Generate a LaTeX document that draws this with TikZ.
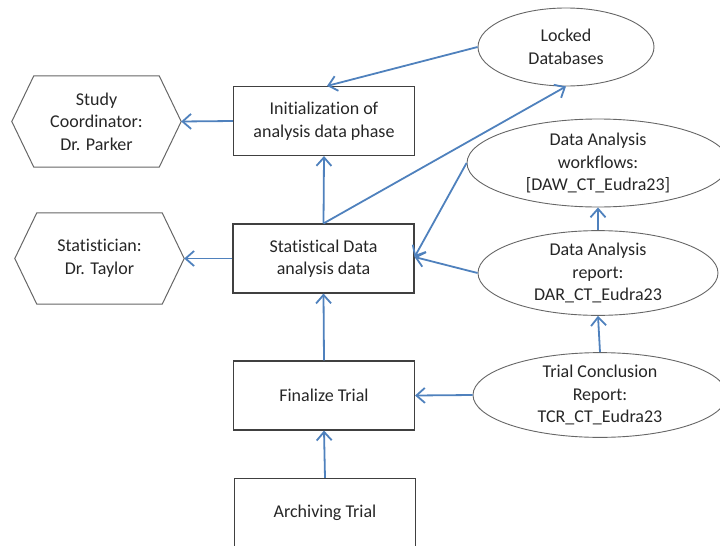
\documentclass[tikz,border=0pt]{standalone}
\usepackage{fontspec}
\setmainfont{Carlito}[Ligatures=NoCommon]
\usetikzlibrary{arrows.meta,shapes.geometric}
\definecolor{flow}{HTML}{4F81BD}
\definecolor{ink}{HTML}{262626}
\tikzset{
  base/.style={font=\fontsize{18}{22.5}\selectfont, text=ink, align=center, inner sep=0pt},
  stepbox/.style={base, draw=black!75, line width=1.1pt, minimum width=181pt, minimum height=69pt},
  docoval/.style={base, ellipse, draw=black!60, line width=0.9pt},
  hexbox/.style={base, minimum width=169pt, minimum height=91pt},
  hexline/.style={draw=black!60, line width=1pt},
  flowarrow/.style={draw=flow, line width=1.8pt, -{Straight Barb[length=8.5pt,width=15pt,line width=1.8pt]}},
}
\begin{document}
\begin{tikzpicture}[x=1pt, y=-1pt]
\useasboundingbox (0,0) rectangle (720,546);
\clip (0,0) rectangle (720,546);

% process steps
\node[stepbox] (init)  at (324,121)   {Initialization of\\analysis data phase};
\node[stepbox] (stat)  at (323.5,258.5) {Statistical Data\\analysis data};
\node[stepbox] (final) at (324,395.5) {Finalize Trial};
\node[stepbox] (arch)  at (325,513)   {Archiving Trial};

% roles
\node[hexbox] (sc) at (96.5,121.5) {Study\\Coordinator:\\Dr. Parker};
\draw[hexline] (sc.west) -- ([xshift=22pt]sc.north west) -- ([xshift=-22pt]sc.north east)
  -- (sc.east) -- ([xshift=-22pt]sc.south east) -- ([xshift=22pt]sc.south west) -- cycle;
\node[hexbox] (st) at (99.5,258.5) {Statistician:\\Dr. Taylor};
\draw[hexline] (st.west) -- ([xshift=22pt]st.north west) -- ([xshift=-22pt]st.north east)
  -- (st.east) -- ([xshift=-22pt]st.south east) -- ([xshift=22pt]st.south west) -- cycle;

% documents
\node[docoval, minimum width=176pt, minimum height=78pt] (lock) at (566,47) {Locked\\Databases};
\node[docoval, minimum width=262pt, minimum height=88pt] (daw) at (598,163) {Data Analysis\\workflows:\\{[DAW\_CT\_Eudra23]}};
\node[docoval, minimum width=240pt, minimum height=80pt] (dar) at (598,273) {Data Analysis\\report:\\DAR\_CT\_Eudra23};
\node[docoval, minimum width=254pt, minimum height=78pt] (tcr) at (600,395) {Trial Conclusion\\Report:\\TCR\_CT\_Eudra23};

% connectors
\draw[flowarrow] (init.west) -- (sc.east);
\draw[flowarrow] (stat.west) -- (st.east);
\draw[flowarrow] (lock.west) -- ([xshift=3pt]init.north);
\draw[flowarrow] (stat.north) -- (init.south);
\draw[flowarrow] (stat.north) -- (lock.south);
\draw[flowarrow] (daw.west) -- ([yshift=1.5pt]stat.east);
\draw[flowarrow] (dar.west) -- ([yshift=1.5pt]stat.east);
\draw[flowarrow] (dar.north) -- (daw.south);
\draw[flowarrow] (tcr.north) -- (dar.south);
\draw[flowarrow] (tcr.west) -- (final.east);
\draw[flowarrow] (final.north) -- (stat.south);
\draw[flowarrow] (arch.north) -- (final.south);
\end{tikzpicture}
\end{document}
